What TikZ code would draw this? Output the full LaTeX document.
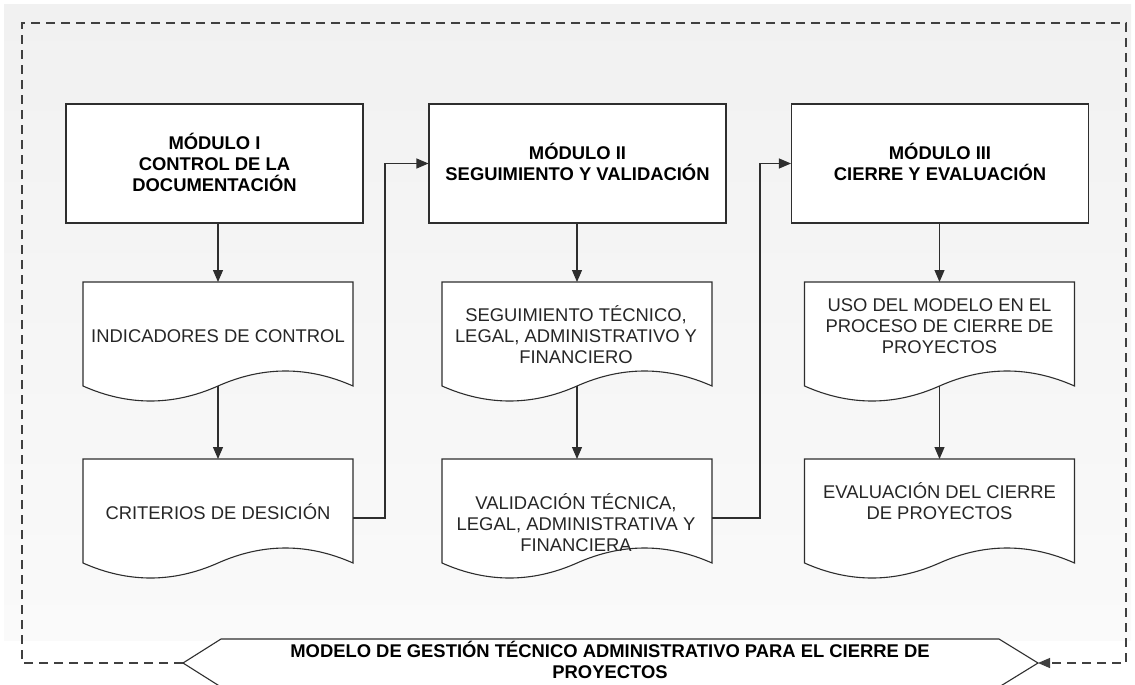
\documentclass[tikz,border=0pt]{standalone}
\usepackage{fontspec}
\setmainfont{Liberation Sans}
\usetikzlibrary{arrows.meta,calc}
\definecolor{bgtop}{HTML}{F1F1F1}
\definecolor{bgbot}{HTML}{FAFAFA}
\definecolor{linec}{HTML}{2E2E2E}
\definecolor{dashc}{HTML}{404040}
\newcommand{\LN}[1]{\smash{#1}\rule{0pt}{13.2pt}}
\newcommand{\docshape}[1]{%
  \draw[docline] (#1.north west) -- (#1.south west)
   .. controls ($(#1.south west)!0.1667!(#1.south east)+(0,20)$) and ($(#1.south west)!0.3333!(#1.south east)+(0,20)$) .. ($(#1.south west)!0.5!(#1.south east)$)
   .. controls ($(#1.south west)!0.6667!(#1.south east)+(0,-20)$) and ($(#1.south west)!0.8333!(#1.south east)+(0,-20)$) .. (#1.south east) -- (#1.north east) -- cycle;}
\begin{document}
\begin{tikzpicture}[x=1pt,y=-1pt,
 modbox/.style={draw=linec, line width=1.1pt, fill=white, minimum width=297pt, minimum height=119pt, inner sep=0pt, align=center, font=\bfseries\fontsize{18.4}{21}\selectfont},
 docfrm/.style={minimum width=270pt, minimum height=104pt, inner sep=0pt, outer sep=0pt},
 docline/.style={draw=linec, line width=1.1pt, fill=white},
 txt/.style={align=center, inner sep=0pt, text=black!85, font=\fontsize{18.4}{21}\selectfont},
 arr/.style={draw=linec, line width=1.1pt, -{Triangle[length=12pt,width=10pt]}},
 dashline/.style={draw=dashc, line width=1.1pt, dash pattern=on 9pt off 6pt, -{Triangle[length=12pt,width=10pt]}}]
\useasboundingbox (0,0) rectangle (1135,685);
\fill[white] (0,0) rectangle (1135,685);
\shade[top color=bgtop, bottom color=bgbot] (4,5) rectangle (1131,640);

% modules
\node[modbox] (m1) at (214.5,163.5) {\LN{MÓDULO I}\\\LN{CONTROL DE LA}\\\LN{DOCUMENTACIÓN}};
\node[modbox] (m2) at (577.5,163.5) {\LN{MÓDULO II}\\\LN{SEGUIMIENTO Y VALIDACIÓN}};
\node[modbox] (m3) at (940,163.5) {\LN{MÓDULO III}\\\LN{CIERRE Y EVALUACIÓN}};

% document frames
\node[docfrm] (d1) at (218,334) {};
\node[docfrm] (d2) at (218,511) {};
\node[docfrm] (d3) at (577,334) {};
\node[docfrm] (d4) at (577,511) {};
\node[docfrm] (d5) at (939.5,334) {};
\node[docfrm] (d6) at (939.5,511) {};
\docshape{d1}\docshape{d2}\docshape{d3}\docshape{d4}\docshape{d5}\docshape{d6}

\node[txt] (t1) at (218,336) {\LN{INDICADORES DE CONTROL}};
\node[txt] (t2) at (218,513) {\LN{CRITERIOS DE DESICIÓN}};
\node[txt] (t3) at (576,336) {\LN{SEGUIMIENTO TÉCNICO,}\\\LN{LEGAL, ADMINISTRATIVO Y}\\\LN{FINANCIERO}};
\node[txt] (t4) at (576,523.5) {\LN{VALIDACIÓN TÉCNICA,}\\\LN{LEGAL, ADMINISTRATIVA Y}\\\LN{FINANCIERA}};
\node[txt] (t5) at (939.5,326) {\LN{USO DEL MODELO EN EL}\\\LN{PROCESO DE CIERRE DE}\\\LN{PROYECTOS}};
\node[txt] (t6) at (939.5,502.5) {\LN{EVALUACIÓN DEL CIERRE}\\\LN{DE PROYECTOS}};

% connectors
\draw[arr] (m1.south -| d1.north) -- (d1.north);
\draw[arr] (d1.south) -- (d2.north);
\draw[arr] (m2.south -| d3.north) -- (d3.north);
\draw[arr] (d3.south) -- (d4.north);
\draw[arr] (m3.south -| d5.north) -- (d5.north);
\draw[arr] (d5.south) -- (d6.north);
\coordinate (k1) at (385,0);
\coordinate (k2) at (760,0);
\coordinate (e2) at ([yshift=-7pt]d2.east);
\coordinate (e4) at ([yshift=-7pt]d4.east);
\draw[arr] (e2) -- (e2 -| k1) |- (m2.west);
\draw[arr] (e4) -- (e4 -| k2) |- (m3.west);

% bottom banner
\node[minimum width=855pt, minimum height=48pt, inner sep=0pt, outer sep=0pt] (p) at (610.5,663) {};
\draw[docline] (p.west) -- ($(p.north west)+(38,0)$) -- ($(p.north east)+(-39,0)$) -- (p.east) -- ($(p.south east)+(-39,0)$) -- ($(p.south west)+(38,0)$) -- cycle;
\node[txt, font=\bfseries\fontsize{18.4}{21}\selectfont, text=black] (pt) at (610,661) {\LN{MODELO DE GESTIÓN TÉCNICO ADMINISTRATIVO PARA EL CIERRE DE}\\\LN{PROYECTOS}};

% dashed loop
\coordinate (tl) at (22,23);
\coordinate (br) at (1126,663);
\draw[dashline] (p.west) -| (tl) -| (br) -- (p.east);
\end{tikzpicture}
\end{document}
